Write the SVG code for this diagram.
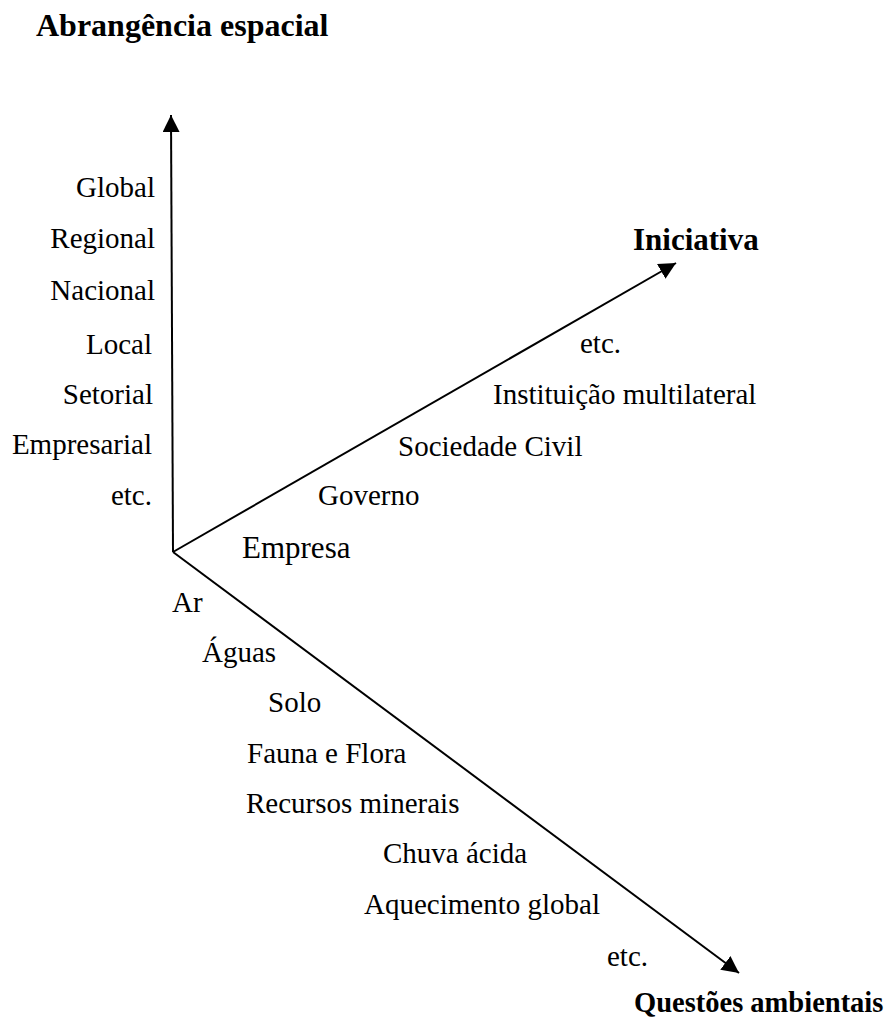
<svg xmlns="http://www.w3.org/2000/svg" width="891" height="1020" viewBox="0 0 891 1020">
<style>
text{font-family:"Liberation Serif","Times New Roman",serif;fill:#000;font-size:29px}
.b{font-weight:bold;font-size:31px}
.r{text-anchor:end}
.ax{stroke:#000;stroke-width:2;fill:none}
</style>
<defs>
<marker id="ah" viewBox="0 0 10 10" refX="10" refY="5" markerWidth="17" markerHeight="17" markerUnits="userSpaceOnUse" orient="auto">
<path d="M0,0 L10,5 L0,10 z" fill="#000"/>
</marker>
</defs>
<g id="connectors">
<line class="ax" x1="173" y1="552" x2="171" y2="115" marker-end="url(#ah)"/>
<line class="ax" x1="173" y1="552" x2="676" y2="263" marker-end="url(#ah)"/>
<line class="ax" x1="173" y1="552" x2="739" y2="973" marker-end="url(#ah)"/>
</g>
<g id="axis-abrangencia">
<text class="b" x="36" y="36" style="font-size:32px">Abrangência espacial</text>
<text class="r" x="155" y="197">Global</text>
<text class="r" x="155" y="248">Regional</text>
<text class="r" x="155" y="300">Nacional</text>
<text class="r" x="152" y="354">Local</text>
<text class="r" x="153" y="404">Setorial</text>
<text class="r" x="152" y="454">Empresarial</text>
<text class="r" x="152" y="505">etc.</text>
</g>
<g id="axis-iniciativa">
<text class="b" x="633" y="250">Iniciativa</text>
<text x="580" y="353">etc.</text>
<text x="493" y="404">Instituição multilateral</text>
<text x="398" y="456">Sociedade Civil</text>
<text x="318" y="505">Governo</text>
<text x="242" y="558" style="font-size:31px">Empresa</text>
</g>
<g id="axis-questoes">
<text x="172" y="612">Ar</text>
<text x="202" y="662">Águas</text>
<text x="268" y="712">Solo</text>
<text x="247" y="763">Fauna e Flora</text>
<text x="246" y="813">Recursos minerais</text>
<text x="383" y="863">Chuva ácida</text>
<text x="364" y="914">Aquecimento global</text>
<text x="607" y="966">etc.</text>
<text class="b" x="634" y="1012" style="font-size:28.5px">Questões ambientais</text>
</g>
</svg>
